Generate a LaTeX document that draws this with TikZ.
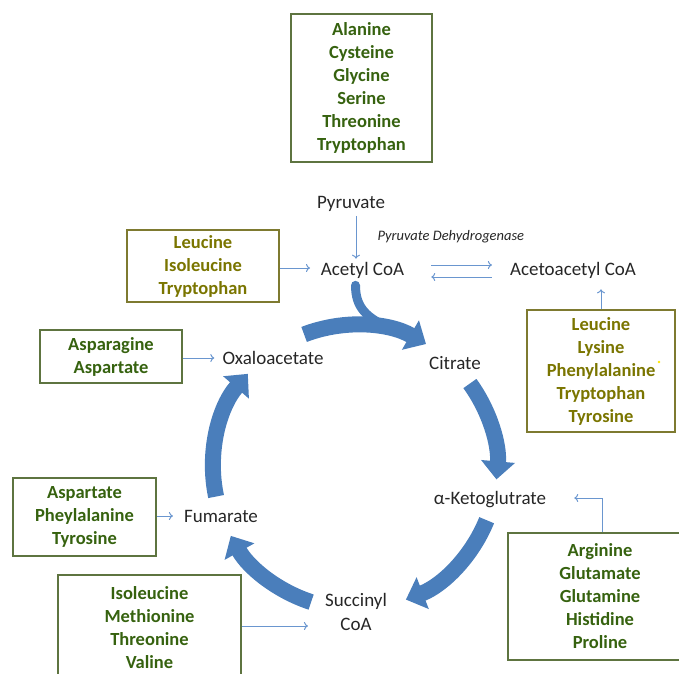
\documentclass[tikz,border=0pt]{standalone}
\usepackage{fontspec}
\setmainfont{Carlito}
\usetikzlibrary{arrows.meta}
\definecolor{cycblue}{HTML}{4A7EBB}
\definecolor{feedblue}{HTML}{6A96CF}
\definecolor{grtext}{HTML}{36620F}
\definecolor{grline}{HTML}{5E7440}
\definecolor{yltext}{HTML}{7A7500}
\definecolor{ylline}{HTML}{7E7A30}
\definecolor{lbltext}{HTML}{262626}
\begin{document}
\begin{tikzpicture}[x=1pt,y=1pt,
  aabox/.style={draw=grline, line width=1.2pt, align=center, inner sep=0pt,
    font=\fontsize{18.5}{23}\selectfont\bfseries, text=grtext},
  ylbox/.style={aabox, draw=ylline, text=yltext},
  lbl/.style={font=\fontsize{19}{23.5}\selectfont, text=lbltext, inner sep=4pt, align=center},
  feed/.style={draw=feedblue, line width=1pt, -{To[length=4pt,width=8pt]}},
  cyc/.style={draw=cycblue, line width=16pt, -{Triangle[width=33pt,length=18pt]}}]
\useasboundingbox (0,0) rectangle (679,-673);
% boxes
\node[aabox, minimum width=141, minimum height=148] (top) at (361.5,-88)
  {Alanine\\Cysteine\\Glycine\\Serine\\Threonine\\Tryptophan};
\node[ylbox, minimum width=152, minimum height=72] (leu) at (203,-266)
  {Leucine\\Isoleucine\\Tryptophan};
\node[ylbox, minimum width=148, minimum height=122] (rbox) at (601,-371)
  {Leucine\\Lysine\\Phenylalanine\\Tryptophan\\Tyrosine};
\node[aabox, minimum width=142, minimum height=53] (asn) at (111,-356.5)
  {Asparagine\\Aspartate};
\node[aabox, minimum width=143, minimum height=78] (asp) at (84.5,-517)
  {Aspartate\\Pheylalanine\\Tyrosine};
\node[aabox, minimum width=183, minimum height=106] (iso) at (149.5,-628)
  {Isoleucine\\Methionine\\Threonine\\Valine};
\node[aabox, minimum width=184, minimum height=127] (arg) at (600,-596.5)
  {Arginine\\Glutamate\\Glutamine\\Histidine\\Proline};
\fill[yellow!90!orange] (659,-362) circle (1.4);
% labels
\node[lbl] (pyr) at (351,-204) {Pyruvate};
\node[lbl] (acetyl) at (362.5,-270) {Acetyl CoA};
\node[lbl] (acac) at (573,-270) {Acetoacetyl CoA};
\node[lbl] (oxa) at (273,-358) {Oxaloacetate};
\node[lbl] (cit) at (455,-363) {Citrate};
\node[lbl] (akg) at (490,-500) {α-Ketoglutrate};
\node[lbl] (fum) at (221,-516) {Fumarate};
\node[lbl] (suc) at (356,-612) {Succinyl\\CoA};
\node[font=\fontsize{14.5}{16}\selectfont\itshape, text=lbltext, anchor=west] (pdh) at (374,-237) {Pyruvate Dehydrogenase};
% thin arrows
\draw[feed] ([xshift=5pt]pyr.south) -- ([xshift=-6.5pt,yshift=-1pt]acetyl.north);
\draw[feed] (leu.east |- 0,-268) -- (310,-268) coordinate (leuend);
\draw[feed] ([shift={(23,5)}]acetyl.east) -- ([shift={(-14,5)}]acac.west);
\draw[feed] ([shift={(-14,-7)}]acac.west) -- ([shift={(23,-7)}]acetyl.east);
\draw[feed, shorten >=7pt] (rbox.north) -- (rbox.north |- acac.south);
\draw[feed, shorten >=4pt] (asn.east |- oxa.west) -- (oxa.west);
\draw[feed, shorten >=7pt] (asp.east |- fum.west) -- (fum.west);
\draw[feed, shorten >=13pt] (iso.east |- 0,-626) -- (suc.west |- 0,-626);
\draw[feed, shorten >=24pt] ([xshift=2pt]arg.north) |- ([yshift=2pt]akg.east);
% cycle
\coordinate (C) at (355,-467);
\draw[draw=cycblue, line width=9pt, line cap=round] ([xshift=-7pt,yshift=-3pt]acetyl.south) .. controls +(0,-22) and (366,-318) .. (392,-329) coordinate (join);
\draw[cyc] (C) ++(111:142) arc[start angle=111, end angle=60, radius=142];
\draw[cyc] (C) ++(36:142) arc[start angle=36, end angle=-5, radius=142];
\draw[cyc] (C) ++(-22:142) arc[start angle=-22, end angle=-69, radius=142];
\draw[cyc] (C) ++(-108:142) arc[start angle=-108, end angle=-151, radius=142];
\draw[cyc] (C) ++(192:142) arc[start angle=192, end angle=139, radius=142];
\end{tikzpicture}
\end{document}
